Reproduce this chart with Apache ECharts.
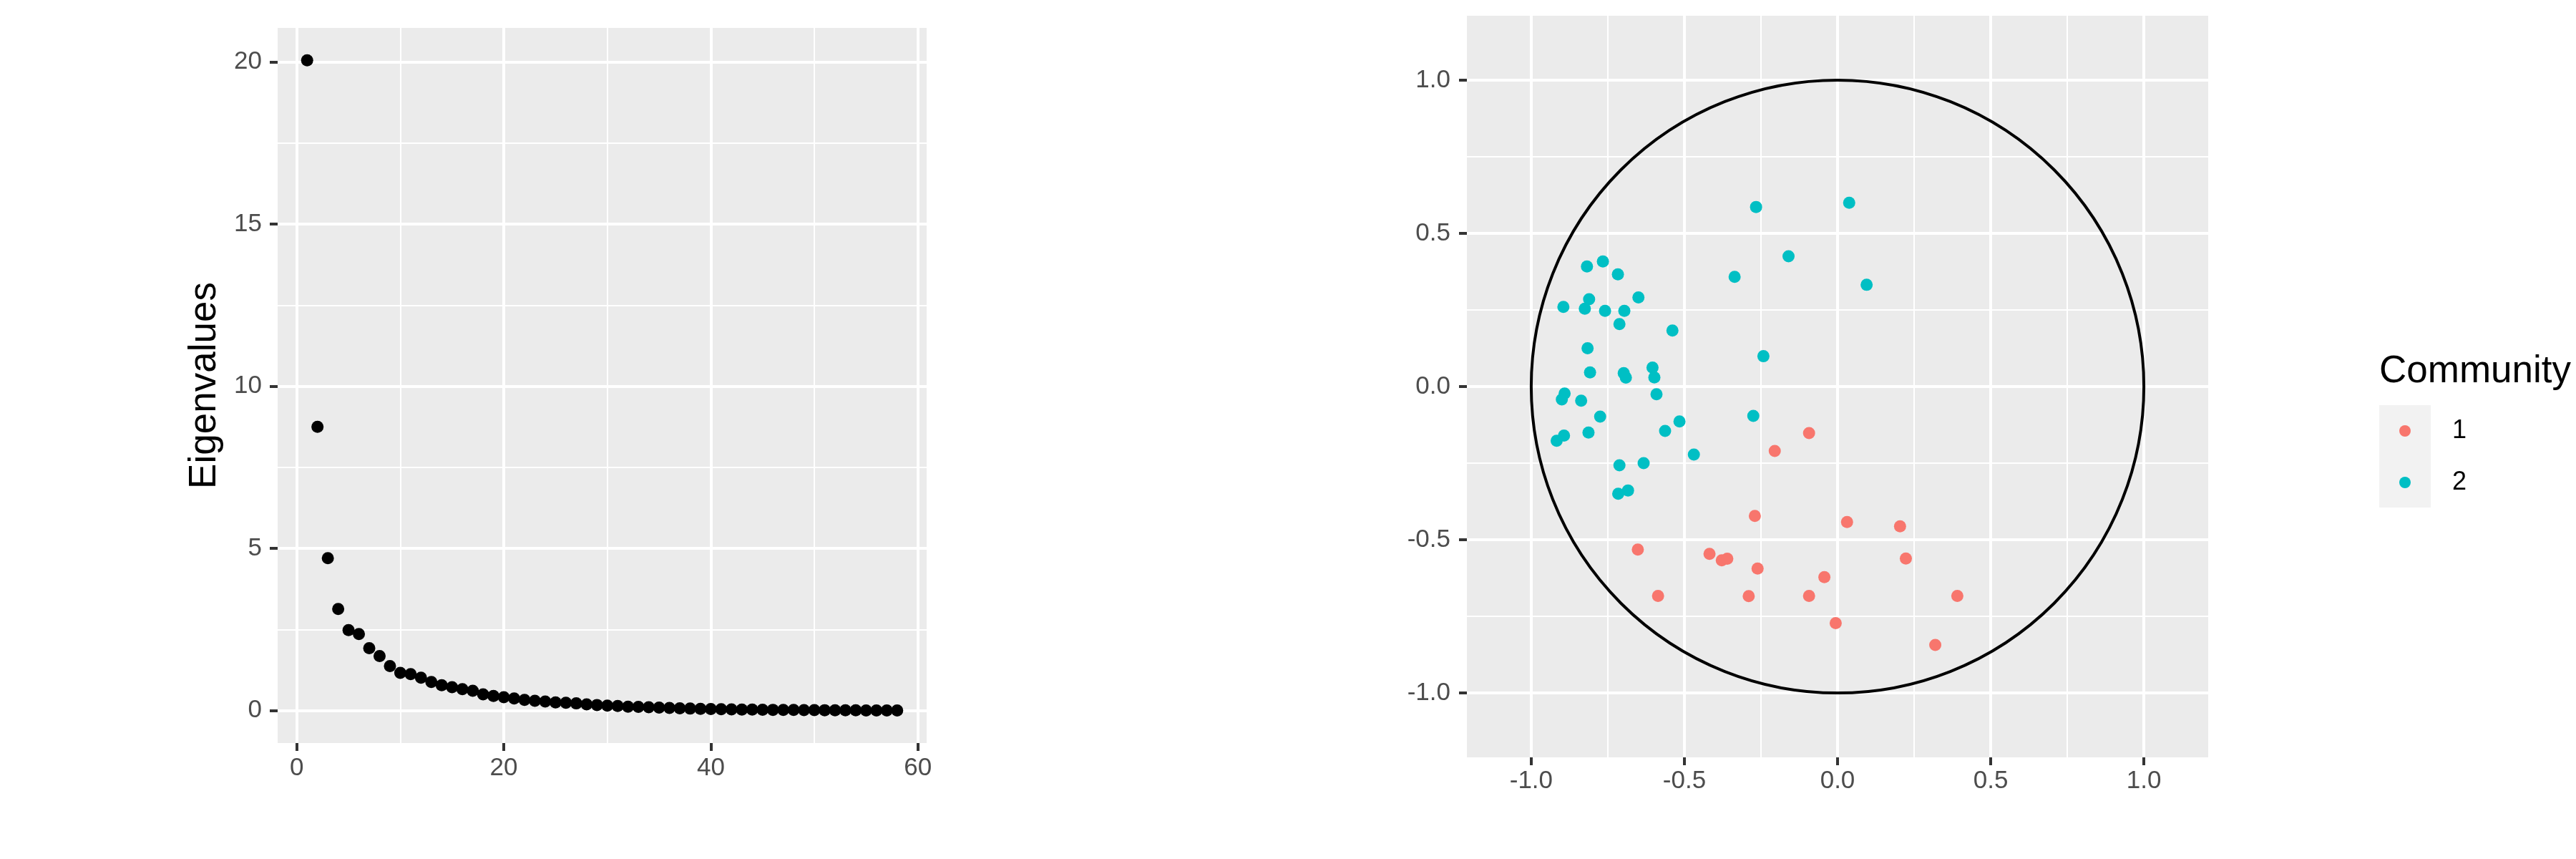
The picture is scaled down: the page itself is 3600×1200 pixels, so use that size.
<!DOCTYPE html>
<html>
<head>
<meta charset="utf-8">
<script src="https://cdn.jsdelivr.net/npm/echarts@6/dist/echarts.min.js"></script>
<style>
html,body{margin:0;padding:0;background:#ffffff;}
#chart{width:3600px;height:1200px;}
</style>
</head>
<body>
<div id="chart"></div>
<script>
// ---------------- data ----------------
const eigenValues = [
  20.05, 8.75, 4.70, 3.13, 2.48, 2.36, 1.92, 1.68, 1.37, 1.16,
  1.12, 1.01, 0.88, 0.78, 0.72, 0.66, 0.61, 0.50, 0.45, 0.41,
  0.37, 0.33, 0.30, 0.28, 0.25, 0.24, 0.22, 0.19, 0.17, 0.15,
  0.14, 0.12, 0.11, 0.10, 0.09, 0.08, 0.07, 0.06, 0.05, 0.045,
  0.04, 0.035, 0.03, 0.027, 0.024, 0.021, 0.018, 0.016, 0.014, 0.012,
  0.010, 0.008, 0.006, 0.005, 0.004, 0.003, 0.002, 0.001
];
const eigenIndex = [
  1,2,3,4,5,6,7,8,9,10,11,12,13,14,15,16,17,18,19,20,
  21,22,23,24,25,26,27,28,29,30,31,32,33,34,35,36,37,38,39,40,
  41,42,43,44,45,46,47,48,49,50,51,52,53,54,55,56,57,58
];
const leftXTicks = [0, 20, 40, 60];
const leftXMinor = [10, 30, 50];
const leftYTicks = [0, 5, 10, 15, 20];
const leftYMinor = [2.5, 7.5, 12.5, 17.5];
const rightTicks = [-1, -0.5, 0, 0.5, 1];
const rightMinor = [-0.75, -0.25, 0.25, 0.75];

const community1 = [
  [-0.093, -0.152], [-0.205, -0.210], [-0.270, -0.422], [0.031, -0.442],
  [0.204, -0.456], [-0.652, -0.532], [-0.418, -0.546], [-0.378, -0.567],
  [-0.360, -0.562], [0.223, -0.561], [-0.261, -0.594], [-0.043, -0.622],
  [-0.586, -0.683], [-0.290, -0.684], [-0.093, -0.683], [0.391, -0.683],
  [-0.006, -0.772], [0.319, -0.843]
];
const community2 = [
  [-0.266, 0.586], [0.038, 0.600], [-0.160, 0.425], [-0.336, 0.358],
  [0.095, 0.332], [-0.818, 0.392], [-0.766, 0.408], [-0.717, 0.366],
  [-0.650, 0.291], [-0.895, 0.260], [-0.811, 0.285], [-0.825, 0.254],
  [-0.759, 0.247], [-0.696, 0.247], [-0.712, 0.204], [-0.539, 0.183],
  [-0.816, 0.125], [-0.242, 0.099], [-0.808, 0.046], [-0.698, 0.044],
  [-0.691, 0.029], [-0.604, 0.062], [-0.598, 0.030], [-0.591, -0.025],
  [-0.891, -0.023], [-0.900, -0.042], [-0.837, -0.046], [-0.775, -0.098],
  [-0.516, -0.114], [-0.563, -0.145], [-0.275, -0.096], [-0.893, -0.160],
  [-0.917, -0.177], [-0.813, -0.150], [-0.469, -0.222], [-0.712, -0.257],
  [-0.633, -0.250], [-0.684, -0.339], [-0.716, -0.350]
];
const unitCircle = [[0, 0, 1]]; // centre x, centre y, radius
const communityNames = ['1', '2'];

// ---------------- styling ----------------
const FONT = 'Liberation Sans, Arial, Helvetica, sans-serif';
const TICK_COLOR = '#333333';
const LABEL_COLOR = '#4D4D4D';
const POINT_SIZE = 17;

function gridLines(xMajor, xMinor, yMajor, yMinor) {
  const d = [];
  xMinor.forEach(v => d.push({xAxis: v, lineStyle: {width: 2}}));
  yMinor.forEach(v => d.push({yAxis: v, lineStyle: {width: 2}}));
  xMajor.forEach(v => d.push({xAxis: v, lineStyle: {width: 4}}));
  yMajor.forEach(v => d.push({yAxis: v, lineStyle: {width: 4}}));
  return {
    silent: true,
    z: 1,
    symbol: ['none', 'none'],
    animation: false,
    label: {show: false},
    emphasis: {disabled: true},
    lineStyle: {color: '#FFFFFF', type: 'solid', opacity: 1},
    data: d
  };
}

function axis(gridIndex, min, max, ticks, margin, fmt, extra) {
  return Object.assign({
    gridIndex: gridIndex,
    type: 'value',
    min: min,
    max: max,
    axisLine: {show: false, onZero: false},
    axisTick: {show: true, customValues: ticks, length: 11, lineStyle: {color: TICK_COLOR, width: 4}},
    axisLabel: {
      customValues: ticks, margin: margin, fontSize: 35, color: LABEL_COLOR,
      fontFamily: FONT, formatter: fmt
    },
    splitLine: {show: false},
    minorSplitLine: {show: false}
  }, extra || {});
}

const intFmt = v => String(Math.round(v));
const decFmt = v => v.toFixed(1);

const chart = echarts.init(document.getElementById('chart'), null, {renderer: 'canvas'});

chart.setOption({
  backgroundColor: '#FFFFFF',
  animation: false,
  title: {
    text: 'Community',
    left: 3325,
    top: 493,
    padding: 0,
    textStyle: {fontSize: 53, fontWeight: 'normal', color: '#000000', fontFamily: FONT}
  },
  legend: {
    data: communityNames,
    orient: 'vertical',
    left: 3353,
    top: 584,
    padding: 0,
    itemWidth: 16,
    itemHeight: 16,
    itemGap: 36,
    icon: 'circle',
    selectedMode: false,
    formatter: name => '{sp| }{t|' + name + '}',
    textStyle: {
      fontSize: 36, lineHeight: 36, color: '#000000', fontFamily: FONT,
      rich: {
        sp: {width: 53, fontSize: 36, lineHeight: 36},
        t: {fontSize: 36, lineHeight: 36, color: '#000000', fontFamily: FONT}
      }
    }
  },
  graphic: [{
    type: 'rect',
    left: 3325,
    top: 566,
    shape: {width: 72, height: 143},
    style: {fill: '#F2F2F2'},
    z: -1,
    silent: true
  }],
  grid: [
    {left: 388, top: 39, width: 907, height: 999, show: true, backgroundColor: '#EBEBEB', borderWidth: 0, outerBoundsMode: 'none'},
    {left: 2050, top: 22, width: 1036, height: 1036, show: true, backgroundColor: '#EBEBEB', borderWidth: 0, outerBoundsMode: 'none'}
  ],
  xAxis: [
    axis(0, -1.85, 60.85, leftXTicks, 18, intFmt),
    axis(1, -1.21, 1.21, rightTicks, 16, decFmt)
  ],
  yAxis: [
    axis(0, -1.0025, 21.05, leftYTicks, 22, intFmt, {
      name: 'Eigenvalues', nameLocation: 'middle', nameGap: 75,
      nameTextStyle: {fontSize: 53, color: '#000000', fontFamily: FONT}
    }),
    axis(1, -1.21, 1.21, rightTicks, 23, decFmt)
  ],
  series: [
    {
      name: 'eigen',
      type: 'scatter',
      xAxisIndex: 0, yAxisIndex: 0,
      symbol: 'circle',
      symbolSize: POINT_SIZE,
      itemStyle: {color: '#000000', opacity: 1},
      data: eigenIndex.map((x, i) => [x, eigenValues[i]]),
      markLine: gridLines(leftXTicks, leftXMinor, leftYTicks, leftYMinor),
      z: 3
    },
    {
      name: 'circle',
      type: 'custom',
      xAxisIndex: 1, yAxisIndex: 1,
      data: unitCircle,
      silent: true,
      clip: false,
      z: 3,
      renderItem: function (params, api) {
        const c = api.coord([api.value(0), api.value(1)]);
        const r = api.size([api.value(2), api.value(2)]);
        return {
          type: 'circle',
          shape: {cx: c[0], cy: c[1], r: (r[0] + r[1]) / 2},
          style: {fill: 'none', stroke: '#000000', lineWidth: 4}
        };
      }
    },
    {
      name: communityNames[0],
      type: 'scatter',
      xAxisIndex: 1, yAxisIndex: 1,
      symbol: 'circle',
      symbolSize: POINT_SIZE,
      itemStyle: {color: '#F8766D', opacity: 1},
      data: community1,
      markLine: gridLines(rightTicks, rightMinor, rightTicks, rightMinor),
      z: 3
    },
    {
      name: communityNames[1],
      type: 'scatter',
      xAxisIndex: 1, yAxisIndex: 1,
      symbol: 'circle',
      symbolSize: POINT_SIZE,
      itemStyle: {color: '#00BFC4', opacity: 1},
      data: community2,
      z: 3
    }
  ]
});
</script>
</body>
</html>
